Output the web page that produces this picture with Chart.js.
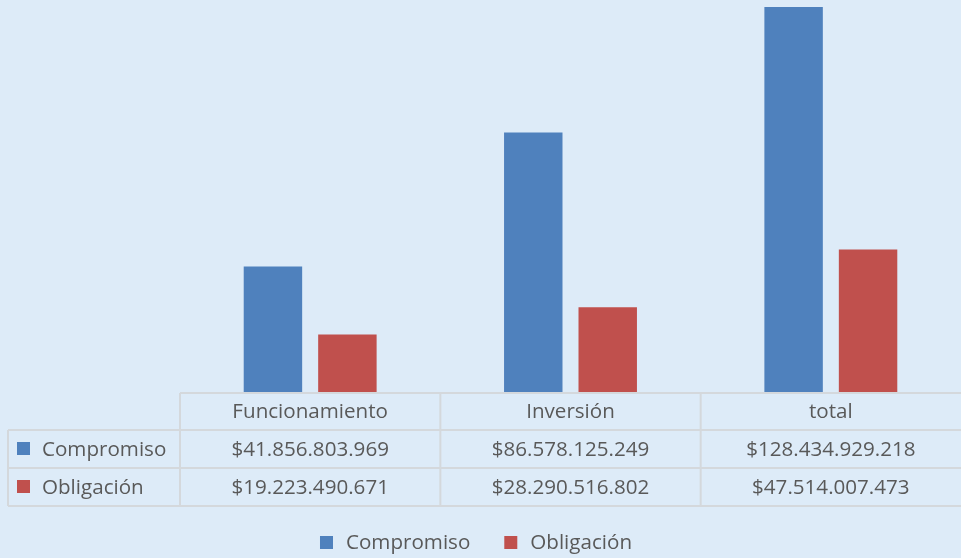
<!DOCTYPE html>
<html><head><meta charset="utf-8">
<script src="https://cdn.jsdelivr.net/npm/chart.js@4.4.0/dist/chart.umd.min.js"></script>
<style>html,body{margin:0;padding:0;background:#DDEBF8;overflow:hidden}</style>
</head><body>
<canvas id="c" width="961" height="558"></canvas>
<script>
const categories = ['Funcionamiento', 'Inversión', 'total'];
const compromiso = [41856803969, 86578125249, 128434929218];
const obligacion = [19223490671, 28290516802, 47514007473];
const seriesNames = ['Compromiso', 'Obligación'];
const seriesColors = ['#4F81BD', '#C0504D'];
const yMax = 130.8e9;

const FONT_FAMILY = '"Open Sans", sans-serif';
const TEXT_COLOR = '#595959';
const GRID_COLOR = '#D4D8DC';

function fmt(v) {
  return '$' + v.toString().replace(/\B(?=(\d{3})+(?!\d))/g, '.');
}

const tablePlugin = {
  id: 'dataTable',
  afterDraw(chart) {
    const ctx = chart.ctx;
    const xs = chart.scales.x;
    const area = chart.chartArea;
    const n = categories.length;
    const catW = (xs.right - xs.left) / n;
    const labelLeft = 8;
    const rowY = [area.bottom + 1, area.bottom + 38, area.bottom + 76, area.bottom + 114];
    ctx.save();
    ctx.strokeStyle = GRID_COLOR;
    ctx.lineWidth = 2;
    ctx.beginPath();
    ctx.moveTo(xs.left, rowY[0]); ctx.lineTo(xs.right, rowY[0]);
    for (let r = 1; r < rowY.length; r++) {
      ctx.moveTo(labelLeft, rowY[r]); ctx.lineTo(xs.right, rowY[r]);
    }
    ctx.moveTo(labelLeft, rowY[1]); ctx.lineTo(labelLeft, rowY[3]);
    for (let i = 0; i < n; i++) {
      const bx = xs.getPixelForValue(i) - catW / 2;
      ctx.moveTo(bx, rowY[0]); ctx.lineTo(bx, rowY[3]);
    }
    ctx.stroke();

    ctx.font = '20.6px ' + FONT_FAMILY;
    ctx.fillStyle = TEXT_COLOR;
    ctx.textBaseline = 'middle';
    ctx.textAlign = 'center';
    categories.forEach((c, i) => {
      ctx.fillText(c, xs.getPixelForValue(i), (rowY[0] + rowY[1]) / 2 + 1);
    });
    chart.data.datasets.forEach((ds, d) => {
      const cy = (rowY[d + 1] + rowY[d + 2]) / 2;
      ds.data.forEach((v, i) => {
        ctx.textAlign = 'center';
        ctx.fillStyle = TEXT_COLOR;
        ctx.fillText(fmt(v), xs.getPixelForValue(i), cy + 1);
      });
      ctx.fillStyle = ds.backgroundColor;
      ctx.fillRect(17, cy - 7, 13, 13);
      ctx.fillStyle = TEXT_COLOR;
      ctx.textAlign = 'left';
      ctx.fillText(ds.label, 42, cy + 1);
    });

    const ly = 543;
    const box = 13, gapBox = 13, gapItem = 34;
    const widths = chart.data.datasets.map(ds => ctx.measureText(ds.label).width);
    let total = 0;
    widths.forEach((w, i) => { total += box + gapBox + w + (i < widths.length - 1 ? gapItem : 0); });
    let lx = 476 - total / 2;
    chart.data.datasets.forEach((ds, i) => {
      ctx.fillStyle = ds.backgroundColor;
      ctx.fillRect(lx, ly - 7, box, box);
      ctx.fillStyle = TEXT_COLOR;
      ctx.textAlign = 'left';
      ctx.fillText(ds.label, lx + box + gapBox, ly);
      lx += box + gapBox + widths[i] + gapItem;
    });
    ctx.restore();
  }
};

new Chart(document.getElementById('c'), {
  type: 'bar',
  data: {
    labels: categories,
    datasets: [
      { label: seriesNames[0], data: compromiso, backgroundColor: seriesColors[0], borderWidth: 0 },
      { label: seriesNames[1], data: obligacion, backgroundColor: seriesColors[1], borderWidth: 0 }
    ]
  },
  options: {
    responsive: false,
    animation: false,
    devicePixelRatio: 1,
    layout: { padding: { left: 180, right: 0, top: 0, bottom: 166 } },
    datasets: { bar: { categoryPercentage: 0.572, barPercentage: 0.785 } },
    scales: {
      x: { display: false },
      y: { display: false, min: 0, max: yMax }
    },
    plugins: { legend: { display: false }, tooltip: { enabled: false } }
  },
  plugins: [tablePlugin]
});
</script>
</body></html>
